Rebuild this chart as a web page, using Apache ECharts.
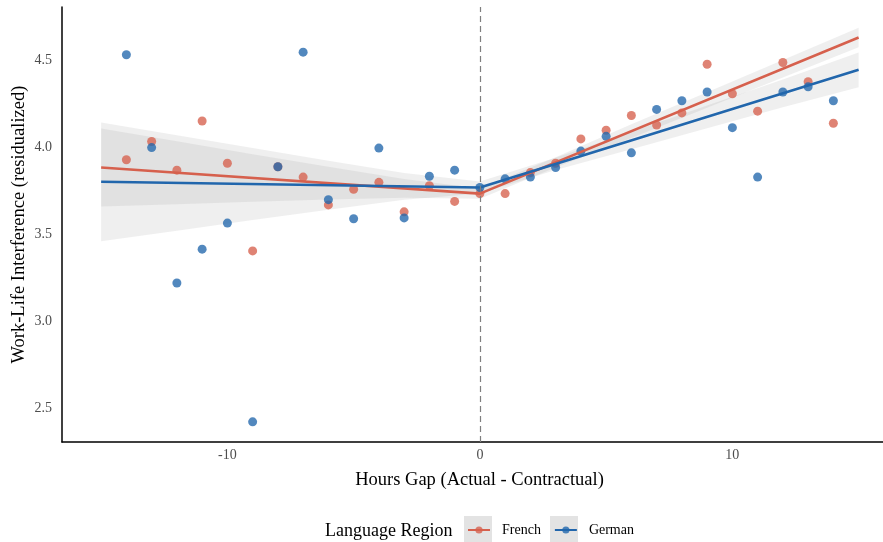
<!DOCTYPE html>
<html>
<head>
<meta charset="utf-8">
<script src="https://cdn.jsdelivr.net/npm/echarts@6/dist/echarts.min.js"></script>
<style>
html,body{margin:0;padding:0;background:#fff;}
#chart{width:883px;height:542px;}
</style>
</head>
<body>
<div id="chart"></div>
<script>
// ---- data ----
var hoursGap = [-14,-13,-12,-11,-10,-9,-8,-7,-6,-5,-4,-3,-2,-1,0,1,2,3,4,5,6,7,8,9,10,11,12,13,14];
var frenchY = [3.93,4.035,3.87,4.153,3.91,3.405,3.89,3.83,3.67,3.76,3.80,3.63,3.78,3.69,3.735,3.735,3.856,3.91,4.05,4.10,4.185,4.13,4.20,4.48,4.31,4.21,4.49,4.38,4.14];
var germanY = [4.535,4.00,3.22,3.415,3.565,2.42,3.89,4.55,3.70,3.59,3.997,3.595,3.835,3.87,3.77,3.82,3.83,3.885,3.98,4.065,3.97,4.22,4.27,4.32,4.115,3.83,4.32,4.35,4.27];

var fitX = [-15, 0, 15];
var frenchFit = [3.885, 3.735, 4.634];
var germanFit = [3.803, 3.770, 4.448];

var bandX = [-15,-12,-9,-6,-3,0,3,6,9,12,15];
var frenchLower = [3.660,3.674,3.688,3.701,3.711,3.705,3.885,4.055,4.229,4.404,4.578];
var frenchUpper = [4.110,4.036,3.962,3.889,3.819,3.765,3.945,4.135,4.319,4.504,4.690];
var germanLower = [3.461,3.521,3.583,3.642,3.700,3.735,3.871,3.991,4.112,4.232,4.348];
var germanUpper = [4.145,4.071,3.997,3.924,3.854,3.805,3.941,4.091,4.242,4.392,4.548];

var xTicks = [-10, 0, 10];
var yTicks = [2.5, 3.0, 3.5, 4.0, 4.5];

var groups = ['French', 'German'];
var lineColors = ['#d6604d', '#2166ac'];
var pointColors = ['#d6604d', '#2166ac'];

// ---- chart ----
var FONT = '"Liberation Serif", "Times New Roman", serif';
var chart = echarts.init(document.getElementById('chart'), null, {renderer: 'canvas'});

function zip(xs, ys) { return xs.map(function (x, i) { return [x, ys[i]]; }); }

function bandSeries(name, lower, upper) {
  var data = bandX.map(function (x, i) { return [x, lower[i], upper[i]]; });
  return {
    type: 'custom',
    name: name + ' band',
    silent: true,
    z: 1,
    data: data,
    encode: {x: 0, y: [1, 2]},
    renderItem: function (params, api) {
      if (params.dataIndex !== 0) return null;
      var pts = [];
      for (var i = 0; i < data.length; i++) pts.push(api.coord([data[i][0], data[i][2]]));
      for (var j = data.length - 1; j >= 0; j--) pts.push(api.coord([data[j][0], data[j][1]]));
      return {type: 'polygon', shape: {points: pts}, style: {fill: 'rgba(153,153,153,0.16)', stroke: null}};
    }
  };
}

var option = {
  animation: false,
  backgroundColor: '#ffffff',
  textStyle: {fontFamily: FONT},
  grid: {left: 62, right: -14, top: 7, bottom: 100, containLabel: false, outerBoundsMode: 'none'},
  xAxis: {
    type: 'value',
    min: -16.55, max: 16.52,
    name: 'Hours Gap (Actual - Contractual)',
    nameLocation: 'middle',
    nameGap: 29,
    nameMoveOverlap: false,
    nameTextStyle: {fontFamily: FONT, fontSize: 18.5, color: '#000'},
    axisLine: {show: true, onZero: false, lineStyle: {color: '#000', width: 1.5}},
    axisTick: {show: false},
    splitLine: {show: false},
    axisLabel: {customValues: xTicks, fontFamily: FONT, fontSize: 14, color: '#4d4d4d', margin: 6}
  },
  yAxis: {
    type: 'value',
    min: 2.304, max: 4.81,
    name: 'Work-Life Interference (residualized)',
    nameLocation: 'middle',
    nameGap: 33,
    nameMoveOverlap: false,
    nameTextStyle: {fontFamily: FONT, fontSize: 18.5, color: '#000'},
    axisLine: {show: true, onZero: false, lineStyle: {color: '#000', width: 1.5}},
    axisTick: {show: false},
    splitLine: {show: false},
    axisLabel: {customValues: yTicks, fontFamily: FONT, fontSize: 14, color: '#4d4d4d', margin: 10,
      formatter: function (v) { return v.toFixed(1); }}
  },
  title: {
    text: 'Language Region',
    left: 325, top: 522, padding: 0,
    textStyle: {fontFamily: FONT, fontSize: 18, fontWeight: 'normal', color: '#000'}
  },
  legend: {
    data: groups,
    left: 467, top: 523, padding: 0,
    itemWidth: 22, itemHeight: 9, itemGap: 13,
    textStyle: {fontFamily: FONT, fontSize: 14, color: '#000', padding: [0, 0, 0, 7]},
    selectedMode: false
  },
  graphic: [
    {type: 'rect', left: 464, top: 516, z: -1, shape: {width: 28, height: 30}, style: {fill: '#e3e3e3'}},
    {type: 'rect', left: 550, top: 516, z: -1, shape: {width: 28, height: 30}, style: {fill: '#e3e3e3'}}
  ],
  series: [
    {
      type: 'line', name: 'French', data: zip(fitX, frenchFit), z: 4,
      symbol: 'circle', symbolSize: 9, showSymbol: false,
      lineStyle: {color: lineColors[0], width: 2.6}, itemStyle: {color: lineColors[0], opacity: 0.8},
      markLine: {
        silent: true, symbol: 'none', label: {show: false},
        lineStyle: {type: [6, 4], color: '#7f7f7f', width: 1.2},
        data: [{xAxis: 0}]
      }
    },
    {
      type: 'line', name: 'German', data: zip(fitX, germanFit), z: 4,
      symbol: 'circle', symbolSize: 9, showSymbol: false,
      lineStyle: {color: lineColors[1], width: 2.6}, itemStyle: {color: lineColors[1], opacity: 0.8}
    },
    {
      type: 'scatter', name: 'French', data: zip(hoursGap, frenchY), z: 3,
      symbolSize: 9, itemStyle: {color: pointColors[0], opacity: 0.78}
    },
    {
      type: 'scatter', name: 'German', data: zip(hoursGap, germanY), z: 3,
      symbolSize: 9, itemStyle: {color: pointColors[1], opacity: 0.78}
    },
    bandSeries('French', frenchLower, frenchUpper),
    bandSeries('German', germanLower, germanUpper)
  ]
};
chart.setOption(option);
</script>
</body>
</html>
